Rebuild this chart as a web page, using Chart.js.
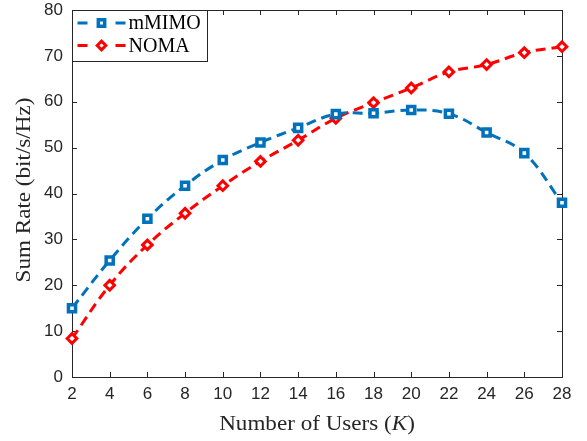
<!DOCTYPE html>
<html>
<head>
<meta charset="utf-8">
<script src="https://cdn.jsdelivr.net/npm/chart.js@4.4.1/dist/chart.umd.min.js"></script>
<style>
  html, body { margin: 0; padding: 0; background: #fff; }
  #wrap { width: 587px; height: 441px; }
</style>
</head>
<body>
<div id="wrap"><canvas id="rateChart"></canvas></div>
<script>
const users = [2, 4, 6, 8, 10, 12, 14, 16, 18, 20, 22, 24, 26, 28];
const mmimoRate = [15.0, 25.4, 34.5, 41.7, 47.3, 51.1, 54.3, 57.3, 57.5, 58.2, 57.4, 53.3, 48.8, 38.0];
const nomaRate = [8.4, 20.0, 28.8, 35.7, 41.7, 47.0, 51.6, 56.4, 59.8, 63.0, 66.5, 68.1, 70.7, 72.0];
const xTicks = [2, 4, 6, 8, 10, 12, 14, 16, 18, 20, 22, 24, 26, 28];
const yTicks = [0, 10, 20, 30, 40, 50, 60, 70, 80];

const BLUE = '#0072BD';
const RED = '#FF0000';
const AXIS = '#262626';
const SERIF = '"Liberation Serif"';

function toPoints(vals) {
    return users.map((k, i) => ({ x: k, y: vals[i] }));
}

// boite + graduations vers l'intérieur (style MATLAB)
const framePlugin = {
    id: 'frame',
    beforeDatasetsDraw(chart) {
        const { ctx, chartArea: a, scales: { x, y } } = chart;
        ctx.save();
        ctx.strokeStyle = AXIS;
        ctx.lineWidth = 1;
        ctx.strokeRect(Math.round(a.left) + 0.5, Math.round(a.top) + 0.5,
            Math.round(a.width), Math.round(a.height));
        ctx.beginPath();
        xTicks.forEach(t => {
            const px = Math.round(x.getPixelForValue(t)) + 0.5;
            ctx.moveTo(px, a.bottom); ctx.lineTo(px, a.bottom - 5);
            ctx.moveTo(px, a.top); ctx.lineTo(px, a.top + 5);
        });
        yTicks.forEach(t => {
            const py = Math.round(y.getPixelForValue(t)) + 0.5;
            ctx.moveTo(a.left, py); ctx.lineTo(a.left + 5, py);
            ctx.moveTo(a.right, py); ctx.lineTo(a.right - 5, py);
        });
        ctx.stroke();
        ctx.restore();
    },
    afterDraw(chart) {
        const { ctx, chartArea: a } = chart;
        ctx.save();
        // titres des axes
        ctx.fillStyle = AXIS;
        ctx.textBaseline = 'middle';
        const cx = (a.left + a.right) / 2;
        const parts = [
            ['Number of Users (', '21px ' + SERIF],
            ['K', 'italic 21px ' + SERIF],
            [')', '21px ' + SERIF]
        ];
        let total = 0;
        parts.forEach(p => { ctx.font = p[1]; total += ctx.measureText(p[0]).width; });
        ctx.save();
        ctx.translate(cx, 424);
        ctx.scale(1.1, 1);
        let px = -total / 2;
        ctx.textAlign = 'left';
        parts.forEach(p => {
            ctx.font = p[1];
            ctx.fillText(p[0], px, 0);
            px += ctx.measureText(p[0]).width;
        });
        ctx.restore();

        ctx.save();
        ctx.translate(24, 190);
        ctx.rotate(-Math.PI / 2);
        ctx.scale(1.1, 1);
        ctx.textAlign = 'center';
        ctx.font = '21px ' + SERIF;
        ctx.fillText('Sum Rate (bit/s/Hz)', 0, 0);
        ctx.restore();

        // légende
        const lx = Math.round(a.left) + 0.5, ly = Math.round(a.top) + 0.5;
        ctx.fillStyle = '#fff';
        ctx.fillRect(lx, ly, 135, 51);
        ctx.strokeStyle = AXIS;
        ctx.lineWidth = 1;
        ctx.strokeRect(lx, ly, 135, 51);
        chart.data.datasets.forEach((ds, i) => {
            const yy = ly + 12.5 + i * 22.5;
            ctx.save();
            ctx.strokeStyle = ds.borderColor;
            ctx.lineWidth = ds.borderWidth;
            ctx.setLineDash([10, 28]);
            ctx.beginPath();
            ctx.moveTo(lx + 5, yy);
            ctx.lineTo(lx + 53, yy);
            ctx.stroke();
            ctx.setLineDash([]);
            ctx.strokeStyle = ds.pointBorderColor;
            ctx.fillStyle = ds.pointBackgroundColor;
            ctx.lineWidth = ds.pointBorderWidth;
            Chart.helpers.drawPoint(ctx, {
                pointStyle: ds.pointStyle, radius: ds.pointRadius - 0.5,
                borderWidth: ds.pointBorderWidth, rotation: 0
            }, lx + 29, yy);
            ctx.restore();
            ctx.fillStyle = '#000';
            ctx.font = '20px ' + SERIF;
            ctx.textAlign = 'left';
            ctx.fillText(ds.label, lx + 56, yy + 1);
        });
        ctx.restore();
    }
};

const ctx = document.getElementById('rateChart').getContext('2d');
const rateChart = new Chart(ctx, {
    type: 'line',
    data: {
        datasets: [{
            label: 'mMIMO',
            data: toPoints(mmimoRate),
            borderColor: BLUE,
            borderWidth: 3,
            borderDash: [10, 6],
            tension: 0.4,
            pointStyle: 'rect',
            pointRadius: 5,
            pointBorderWidth: 3.5,
            pointBorderColor: BLUE,
            pointBackgroundColor: '#fff',
            clip: false
        }, {
            label: 'NOMA',
            data: toPoints(nomaRate),
            borderColor: RED,
            borderWidth: 3,
            borderDash: [10, 6],
            tension: 0.4,
            pointStyle: 'rectRot',
            pointRadius: 4.8,
            pointBorderWidth: 3,
            pointBorderColor: RED,
            pointBackgroundColor: '#fff',
            clip: false
        }]
    },
    options: {
        responsive: true,
        maintainAspectRatio: false,
        animation: false,
        devicePixelRatio: 1,
        layout: { padding: { top: 10, right: 25, left: 0, bottom: 0 } },
        plugins: { legend: { display: false }, tooltip: { enabled: false } },
        scales: {
            x: {
                type: 'linear',
                min: 2,
                max: 28,
                afterBuildTicks: s => { s.ticks = xTicks.map(v => ({ value: v })); },
                afterFit: s => { s.height = 64; },
                grid: { display: false, drawTicks: false },
                border: { display: false },
                ticks: { color: AXIS, padding: 7, font: { family: '"Liberation Sans"', size: 17 }, maxRotation: 0 }
            },
            y: {
                min: 0,
                max: 80,
                afterBuildTicks: s => { s.ticks = yTicks.map(v => ({ value: v })); },
                afterFit: s => { s.width = 72; s.paddingTop = 0; s.paddingBottom = 0; },
                grid: { display: false, drawTicks: false },
                border: { display: false },
                ticks: { color: AXIS, padding: 9, font: { family: '"Liberation Sans"', size: 17 } }
            }
        }
    },
    plugins: [framePlugin]
});
</script>
</body>
</html>
